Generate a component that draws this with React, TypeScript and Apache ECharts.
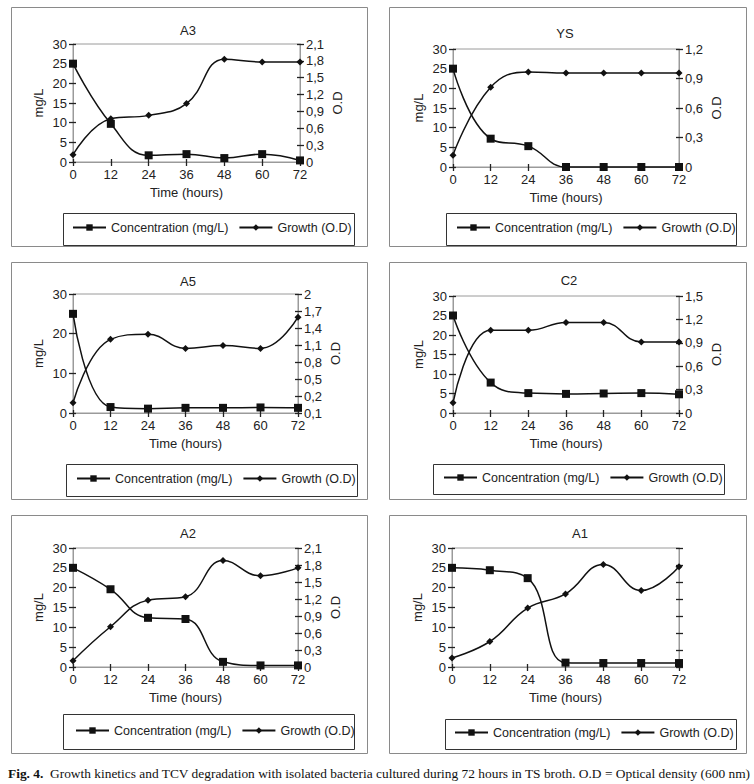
import React, { useEffect, useRef } from 'react';
import * as echarts from 'echarts';

// ---------- data ----------
const hours = [0, 12, 24, 36, 48, 60, 72];
const panelNames = ['A3', 'YS', 'A5', 'C2', 'A2', 'A1'];
const concName = 'Concentration (mg/L)';
const growthName = 'Growth (O.D)';

const concA3 = [25, 9.7, 1.7, 2.0, 1.0, 2.0, 0.4];
const growthA3 = [0.13, 0.77, 0.83, 1.04, 1.83, 1.78, 1.78];
const concYS = [25, 7.2, 5.3, 0, 0, 0, 0];
const growthYS = [0.12, 0.81, 0.965, 0.955, 0.955, 0.955, 0.955];
const concA5 = [25, 1.5, 1.1, 1.3, 1.3, 1.4, 1.3];
const growthA5 = [0.08, 1.2, 1.29, 1.04, 1.09, 1.04, 1.59];
const concC2 = [25, 7.8, 5.1, 4.9, 5.0, 5.1, 4.8];
const growthC2 = [0.13, 1.06, 1.06, 1.16, 1.16, 0.91, 0.91];
const concA2 = [25, 19.6, 12.4, 12.1, 1.3, 0.4, 0.4];
const growthA2 = [0.11, 0.71, 1.18, 1.24, 1.88, 1.61, 1.75];
const concA1 = [25, 24.4, 22.4, 1.1, 1.0, 1.0, 1.0];
const growthA1 = [0.16, 0.45, 1.04, 1.29, 1.81, 1.35, 1.77];

const concData = [concA3, concYS, concA5, concC2, concA2, concA1];
const growthData = [growthA3, growthYS, growthA5, growthC2, growthA2, growthA1];

// axis scales: left (mg/L) interval, right (O.D) min / max / interval, labels shown
const leftMax = 30;
const leftIntervals = [5, 5, 10, 5, 5, 5];
const rightMins = [0, 0, -0.1, 0, 0, 0];
const rightMaxs = [2.1, 1.2, 2.0, 1.5, 2.1, 2.1];
const rightIntervals = [0.3, 0.3, 0.3, 0.3, 0.3, 0.3];
const rightLabelsShown = [true, true, true, true, true, false];

const caption =
  'Growth kinetics and TCV degradation with isolated bacteria cultured during 72 hours in TS broth. O.D = Optical density (600 nm)';

// ---------- layout ----------
const grids = [
  [73, 44, 227, 118],
  [453, 49, 226, 118],
  [73, 294, 225, 119],
  [453, 296, 226, 117],
  [73, 548, 225, 119],
  [452, 548, 227, 119],
];
const frames = [
  [11, 7, 356, 239],
  [389, 7, 357, 239],
  [11, 262, 356, 237],
  [389, 262, 357, 237],
  [11, 515, 356, 238],
  [389, 515, 357, 238],
];
const legendBoxes = [
  [63, 213, 291, 32],
  [446, 213, 290, 32],
  [66, 464, 291, 32],
  [433, 464, 291, 30],
  [63, 714, 291, 35],
  [445, 719, 291, 30],
];
const legendStarts = [
  [72, 229],
  [456, 229],
  [76, 480],
  [443, 479],
  [75, 732],
  [454, 734],
];
const titlePos = [
  [188, 30],
  [565, 33],
  [188, 281],
  [569, 280],
  [188, 533],
  [580, 533],
];

const FONT = '"Liberation Sans", Arial, Helvetica, sans-serif';
const SERIF = '"Liberation Serif", "Times New Roman", Times, serif';
const TXT = '#222';
const GRAY = '#9a9a9a';
const TICK = '#222';
const LINE = '#111';

const fmtOD = (v: number) => String(Math.round(Math.abs(v) * 10) / 10).replace('.', ',');

function buildOption() {
  const grid: any[] = [];
  const xAxis: any[] = [];
  const yAxis: any[] = [];
  const series: any[] = [];
  const legend: any[] = [];
  const graphic: any[] = [];
  const tickStyle = { color: TICK, width: 1.3 };
  const labelStyle = { color: TXT, fontSize: 13, fontFamily: FONT };

  panelNames.forEach((name, i) => {
    const [gl, gt, gw, gh] = grids[i];
    grid.push({ left: gl, top: gt, width: gw, height: gh, show: true, borderColor: GRAY, borderWidth: 1, backgroundColor: 'transparent' });

    const xBase = { type: 'value', gridIndex: i, min: 0, max: 72, interval: 12, splitLine: { show: false } };
    xAxis.push({
      ...xBase,
      position: 'bottom',
      axisLine: { show: true, lineStyle: { color: GRAY, width: 1 } },
      axisTick: { show: true, length: 4, lineStyle: tickStyle },
      axisLabel: { ...labelStyle, margin: 6 },
      name: 'Time (hours)',
      nameLocation: 'middle',
      nameGap: 24,
      nameTextStyle: labelStyle,
    });
    xAxis.push({
      ...xBase,
      position: 'bottom',
      axisLine: { show: false },
      axisTick: { show: true, inside: true, length: 3, lineStyle: tickStyle },
      axisLabel: { show: false },
    });

    const lBase = { type: 'value', gridIndex: i, min: 0, max: leftMax, interval: leftIntervals[i], splitLine: { show: false }, position: 'left' };
    yAxis.push({
      ...lBase,
      axisLine: { show: true, lineStyle: { color: GRAY, width: 1 } },
      axisTick: { show: true, length: 4, lineStyle: tickStyle },
      axisLabel: { ...labelStyle, margin: 6 },
      name: 'mg/L',
      nameLocation: 'middle',
      nameRotate: 90,
      nameGap: 28,
      nameTextStyle: labelStyle,
    });
    yAxis.push({
      ...lBase,
      axisLine: { show: false },
      axisTick: { show: true, inside: true, length: 3, lineStyle: tickStyle },
      axisLabel: { show: false },
    });
    const rBase = {
      type: 'value',
      gridIndex: i,
      min: rightMins[i],
      max: rightMaxs[i],
      interval: rightIntervals[i],
      splitLine: { show: false },
      position: 'right',
    };
    yAxis.push({
      ...rBase,
      axisLine: { show: true, lineStyle: { color: GRAY, width: 1 } },
      axisTick: { show: true, length: 4, lineStyle: tickStyle },
      axisLabel: { ...labelStyle, margin: 6, show: rightLabelsShown[i], formatter: fmtOD },
      name: rightLabelsShown[i] ? 'O.D' : '',
      nameLocation: 'middle',
      nameRotate: 90,
      nameGap: 31,
      nameTextStyle: labelStyle,
    });
    yAxis.push({
      ...rBase,
      axisLine: { show: false },
      axisTick: { show: true, inside: true, length: 3, lineStyle: tickStyle },
      axisLabel: { show: false },
    });

    series.push({
      type: 'line',
      name: concName,
      xAxisIndex: 2 * i,
      yAxisIndex: 4 * i,
      data: hours.map((h, k) => [h, concData[i][k]]),
      smooth: 0.45,
      symbol: 'rect',
      symbolSize: 8,
      clip: false,
      lineStyle: { color: LINE, width: 1.5 },
      itemStyle: { color: LINE },
      z: 3,
    });
    series.push({
      type: 'line',
      name: growthName,
      xAxisIndex: 2 * i,
      yAxisIndex: 4 * i + 2,
      data: hours.map((h, k) => [h, growthData[i][k]]),
      smooth: 0.45,
      symbol: 'diamond',
      symbolSize: 7,
      clip: false,
      lineStyle: { color: LINE, width: 1.5 },
      itemStyle: { color: LINE },
      z: 3,
    });

    legend.push({
      data: [concName, growthName],
      left: legendStarts[i][0],
      top: legendStarts[i][1] - 8,
      orient: 'horizontal',
      itemWidth: 33,
      itemHeight: 8,
      itemGap: 10,
      padding: 0,
      selectedMode: false,
      textStyle: { color: TXT, fontSize: 12.5, fontFamily: FONT },
    });

    const [fx, fy, fw, fh] = frames[i];
    graphic.push({
      type: 'rect',
      shape: { x: fx + 0.5, y: fy + 0.5, width: fw, height: fh },
      style: { fill: 'none', stroke: '#8a8a8a', lineWidth: 1 },
      silent: true,
      z: 0,
    });
    const [bx, by, bw, bh] = legendBoxes[i];
    graphic.push({
      type: 'rect',
      shape: { x: bx + 0.5, y: by + 0.5, width: bw, height: bh },
      style: { fill: 'none', stroke: '#333', lineWidth: 1 },
      silent: true,
      z: 0,
    });
    graphic.push({
      type: 'text',
      x: titlePos[i][0],
      y: titlePos[i][1],
      style: { text: name, fill: TXT, fontSize: 13, fontFamily: FONT, align: 'center', verticalAlign: 'middle' },
      silent: true,
    });
  });

  graphic.push({
    type: 'text',
    x: 8,
    y: 773,
    style: {
      text: '{b|Fig. 4.}  ' + caption,
      fill: '#111',
      fontSize: 13.4,
      fontFamily: SERIF,
      verticalAlign: 'middle',
      rich: { b: { fontWeight: 'bold', fontSize: 13.4, fontFamily: SERIF, fill: '#111' } },
    },
    silent: true,
  });

  return {
    animation: false,
    backgroundColor: '#ffffff',
    textStyle: { fontFamily: FONT },
    grid,
    xAxis,
    yAxis,
    series,
    legend,
    graphic,
  };
}

export default function App() {
  const ref = useRef<HTMLDivElement>(null);
  useEffect(() => {
    if (!ref.current) return;
    const chart = echarts.init(ref.current, undefined, { renderer: 'svg' });
    chart.setOption(buildOption() as any);
    return () => chart.dispose();
  }, []);
  return (
    <div
      ref={ref}
      style={{ position: 'absolute', left: 0, top: 0, width: 754, height: 784, background: '#fff' }}
    />
  );
}
